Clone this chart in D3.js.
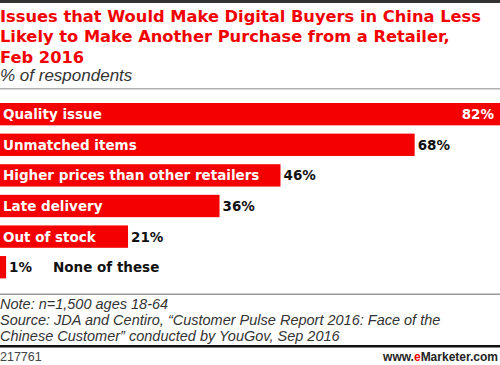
<!DOCTYPE html>
<html><head><meta charset="utf-8">
<script src="https://cdn.jsdelivr.net/npm/d3@7"></script>
<style>
html,body{margin:0;padding:0;background:#fff;}
svg{display:block;}
</style></head>
<body>
<svg id="chart" width="500" height="365"></svg>
<script>
const categories = ["Quality issue","Unmatched items","Higher prices than other retailers","Late delivery","Out of stock","None of these"];
const values = [82,68,46,36,21,1];
const titleLines = ["Issues that Would Make Digital Buyers in China Less","Likely to Make Another Purchase from a Retailer,","Feb 2016"];
const subtitle = "% of respondents";
const noteLines = ["Note: n=1,500 ages 18-64","Source: JDA and Centiro, \u201cCustomer Pulse Report 2016: Face of the","Chinese Customer\u201d conducted by YouGov, Sep 2016"];
const chartId = "217761";

const svg = d3.select("#chart");
const RED = "#f40000";
const FONT = "'Liberation Sans', Arial, sans-serif";
const BOLD = "'DejaVu Sans', 'Liberation Sans', sans-serif";

// top border
svg.append("rect").attr("x",0).attr("y",0).attr("width",500).attr("height",3).attr("fill","#333");

// title
svg.append("g").selectAll("text").data(titleLines).join("text")
  .attr("x",0).attr("y",(d,i)=>22+i*20.3)
  .attr("font-family",BOLD).attr("font-weight","bold").attr("font-size",16.3)
  .attr("fill",RED).text(d=>d);

svg.append("text").attr("x",0).attr("y",80.5)
  .attr("font-family",FONT).attr("font-style","italic").attr("font-size",17)
  .attr("fill","#333").text(subtitle);

svg.append("rect").attr("x",0).attr("y",88).attr("width",500).attr("height",1.5).attr("fill","#b0b0b0");

// scales
const x = d3.scaleLinear().domain([0, d3.max(values)]).range([0,500]);
const y = d3.scaleBand().domain(categories).range([103,278.4]).paddingInner(0.27).paddingOuter(0);

const data = categories.map((c,i)=>({c, v: values[i]}));
const g = svg.append("g");

g.selectAll("rect.bar").data(data).join("rect").attr("class","bar")
  .attr("x",x(0)).attr("y",d=>y(d.c)).attr("width",d=>x(d.v)-x(0)).attr("height",y.bandwidth())
  .attr("fill",RED);

const LBL = 13.5;
function textWidth(t){
  const n = svg.append("text").attr("font-family",BOLD).attr("font-weight","bold").attr("font-size",LBL).text(t);
  const w = n.node().getComputedTextLength(); n.remove(); return w;
}

data.forEach((d,i)=>{
  const yc = y(d.c) + y.bandwidth()/2 + 5;
  const barW = x(d.v) - x(0);
  const lw = textWidth(d.c);
  const vt = d.v + "%";
  const vw = textWidth(vt);
  const inside = lw + 6 < barW;
  const isMax = d.v === d3.max(values);
  let vx;
  if (isMax) {
    g.append("text").attr("x",x(d.v)-6).attr("y",yc).attr("text-anchor","end")
      .attr("font-family",BOLD).attr("font-weight","bold").attr("font-size",LBL).attr("fill","#fff").text(vt);
  } else {
    vx = x(d.v)+3;
    g.append("text").attr("x",vx).attr("y",yc)
      .attr("font-family",BOLD).attr("font-weight","bold").attr("font-size",LBL).attr("fill","#111").text(vt);
  }
  if (inside) {
    g.append("text").attr("x",3).attr("y",yc)
      .attr("font-family",BOLD).attr("font-weight","bold").attr("font-size",LBL).attr("fill","#fff").text(d.c);
  } else {
    g.append("text").attr("x",vx + vw + 21).attr("y",yc)
      .attr("font-family",BOLD).attr("font-weight","bold").attr("font-size",LBL).attr("fill","#111").text(d.c);
  }
});

// footer
svg.append("rect").attr("x",0).attr("y",293.5).attr("width",500).attr("height",1.5).attr("fill","#999");
svg.append("g").selectAll("text").data(noteLines).join("text")
  .attr("x",0).attr("y",(d,i)=>308.5+i*16)
  .attr("font-family",FONT).attr("font-style","italic").attr("font-size",14.5)
  .attr("fill","#333").text(d=>d);
svg.append("rect").attr("x",0).attr("y",345).attr("width",500).attr("height",2.5).attr("fill","#111");
svg.append("text").attr("x",0).attr("y",361).attr("font-family",FONT).attr("font-size",12.5)
  .attr("fill","#444").text(chartId);
const logo = svg.append("text").attr("x",498).attr("y",361).attr("text-anchor","end")
  .attr("font-family",FONT).attr("font-weight","bold").attr("font-size",12).attr("fill","#222");
logo.append("tspan").text("www.");
logo.append("tspan").attr("fill",RED).text("e");
logo.append("tspan").text("Marketer.com");
</script>
</body></html>
